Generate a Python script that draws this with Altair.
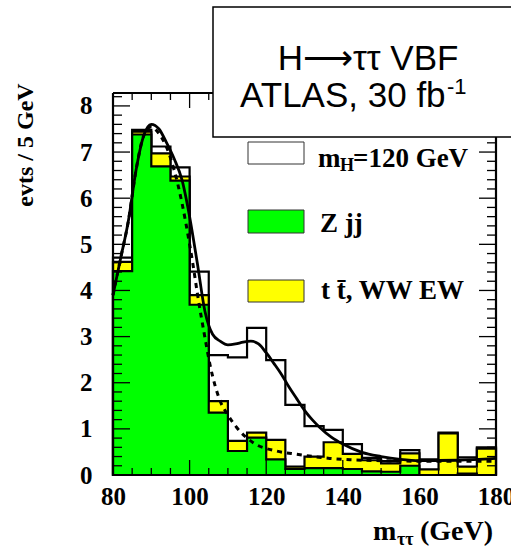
import altair as alt
import pandas as pd

# ---------------- data ----------------
bin_low = [80, 85, 90, 95, 100, 105, 110, 115, 120, 125,
           130, 135, 140, 145, 150, 155, 160, 165, 170, 175]
bin_width = 5
# Z jj background per bin
z_jj = [4.42, 7.38, 6.69, 6.38, 3.69, 1.35, 0.52, 0.81, 0.34, 0.13,
        0.15, 0.15, 0.13, 0.08, 0.07, 0.20, 0.00, 0.00, 0.03, 0.00]
# t tbar, WW EW background per bin
tt_ww = [0.20, 0.06, 0.28, 0.09, 0.21, 0.25, 0.22, 0.11, 0.42, 0.05,
         0.25, 0.56, 0.33, 0.24, 0.18, 0.27, 0.12, 0.90, 0.15, 0.57]
# signal mH = 120 GeV per bin
signal = [0.09, 0.04, 0.15, 0.20, 0.51, 1.00, 1.81, 2.27, 1.73, 1.34,
          0.66, 0.27, 0.21, 0.05, 0.05, 0.07, 0.22, 0.02, 0.20, 0.03]

# fitted curves
fit_x_sb = [80, 82, 84, 86, 88, 90, 92, 94, 96, 98, 100, 102, 104, 106, 108,
            110, 112, 114, 116, 118, 120, 122, 124, 126, 128, 130, 132, 134,
            137, 140, 145, 150, 155, 160, 170, 180]
fit_sb = [3.9, 4.7, 5.5, 6.6, 7.35, 7.6, 7.5, 7.2, 6.85, 6.4, 5.6, 4.6, 3.55,
          3.05, 2.9, 2.82, 2.84, 2.88, 2.9, 2.84, 2.65, 2.42, 2.18, 1.9, 1.65,
          1.4, 1.2, 1.03, 0.82, 0.67, 0.49, 0.4, 0.34, 0.31, 0.32, 0.36]
fit_x_b = [80, 82, 84, 86, 88, 90, 92, 94, 96, 98, 100, 101, 102, 104, 105.3,
           108, 110, 112.3, 116.6, 122.7, 128, 136.6, 142, 150, 160, 170, 180]
fit_b = [3.9, 4.7, 5.5, 6.6, 7.35, 7.55, 7.4, 7.1, 6.6, 5.9, 5.0, 4.5, 3.95,
         2.98, 2.4, 1.6, 1.3, 1.03, 0.70, 0.52, 0.45, 0.36, 0.33, 0.31, 0.30,
         0.30, 0.30]

x_major = [80, 100, 120, 140, 160, 180]
x_minor = [85, 90, 95, 105, 110, 115, 125, 130, 135, 145, 150, 155, 165, 170, 175]
y_major = [0, 1, 2, 3, 4, 5, 6, 7, 8]
y_minor = [round(i * 0.2, 1) for i in range(0, 42) if i % 5 != 0]

X_MIN, X_MAX, Y_MAX = 80, 180, 8.28
W, H = 383, 382
GREEN = "#00ff00"
YELLOW = "#ffff00"
SERIF = "Liberation Serif"
SANS = "Liberation Sans"

# ---------------- build tables ----------------
bkg_top = [a + b for a, b in zip(z_jj, tt_ww)]
tot_top = [a + b for a, b in zip(bkg_top, signal)]
edges = bin_low + [bin_low[-1] + bin_width]

def step_df(vals, name):
    return pd.DataFrame({"x": edges, "y": vals + [vals[-1]], "h": name})

xs = alt.Scale(domain=[X_MIN, X_MAX], nice=False, zero=False)
ys = alt.Scale(domain=[0, Y_MAX], nice=False, zero=True)

X_AXIS = alt.Axis(values=x_major, format="d", ticks=False, tickSize=0, domain=False,
                  grid=False, labelFont=SERIF, labelFontWeight="bold",
                  labelFontSize=25, labelColor="black", labelPadding=9,
                  labelFlush=False, labelOverlap=False, title=None)
Y_AXIS = alt.Axis(values=y_major, format="d", ticks=False, tickSize=0, domain=False,
                  grid=False, labelFont=SERIF, labelFontWeight="bold",
                  labelFontSize=25, labelColor="black", labelPadding=21,
                  labelFlush=False, labelOverlap=False, title=None)

def XE():
    return alt.X("x:Q", scale=xs, axis=X_AXIS, title=None)

def YE():
    return alt.Y("y:Q", scale=ys, axis=Y_AXIS, title=None)

def hist(vals, fill, name):
    return alt.Chart(step_df(vals, name)).mark_area(
        interpolate="step-after", fill=fill, stroke="black", strokeWidth=2.2,
        opacity=1, fillOpacity=1
    ).encode(x=XE(), y=YE())

h_tot = hist(tot_top, "white", "total")
h_bkg = hist(bkg_top, YELLOW, "bkg")
h_z = hist(z_jj, GREEN, "zjj")

line_sb = alt.Chart(pd.DataFrame({"x": fit_x_sb, "y": fit_sb})).mark_line(
    interpolate="monotone", color="black", strokeWidth=2.8
).encode(x=XE(), y=YE())
line_b = alt.Chart(pd.DataFrame({"x": fit_x_b, "y": fit_b})).mark_line(
    interpolate="monotone", color="black", strokeWidth=3, strokeDash=[5, 5]
).encode(x=XE(), y=YE())

# inward ticks
def xticks(vals, length, top):
    y1 = 0 if top else H
    y2 = length if top else H - length
    return alt.Chart(pd.DataFrame({"x": vals})).mark_rule(color="black", strokeWidth=1.3).encode(
        x=XE(), y=alt.value(y1), y2=alt.value(y2))

def yticks(vals, length, right):
    x1 = W if right else 0
    x2 = W - length if right else length
    return alt.Chart(pd.DataFrame({"y": vals})).mark_rule(color="black", strokeWidth=1.3).encode(
        y=YE(), x=alt.value(x1), x2=alt.value(x2))

ticks = [
    xticks(x_major, 15, False), xticks(x_minor, 7, False),
    xticks(x_major, 15, True), xticks(x_minor, 7, True),
    yticks(y_major, 17, False), yticks(y_minor, 9, False),
    yticks(y_major, 17, True), yticks(y_minor, 9, True),
]

one = pd.DataFrame({"a": [0]})
def frame_rule(x1, x2, y1, y2):
    return alt.Chart(one).mark_rule(color="black", strokeWidth=2.2).encode(
        x=alt.value(x1), x2=alt.value(x2), y=alt.value(y1), y2=alt.value(y2))

frame = [frame_rule(0, W, 0, 0), frame_rule(0, W, H, H),
         frame_rule(0, 0, 0, H), frame_rule(W, W, 0, H)]

# legend
def legend_box(y1, y2, fill):
    return alt.Chart(one).mark_rect(fill=fill, stroke="#333333", strokeWidth=1).encode(
        x=alt.value(135), x2=alt.value(191), y=alt.value(y1), y2=alt.value(y2))

def txt(text, x, y, size, font=SERIF, weight="bold", align="left", baseline="alphabetic", angle=0):
    return alt.Chart(one).mark_text(
        text=text, font=font, fontWeight=weight, fontSize=size, align=align,
        baseline=baseline, angle=angle, color="black"
    ).encode(x=alt.value(x), y=alt.value(y))

legend = [
    legend_box(49, 71, "white"), legend_box(117, 140, GREEN), legend_box(187, 209, YELLOW),
    txt("m", 205, 74, 27), txt("H", 227, 78, 18), txt("=120 GeV", 240, 74, 27),
    txt("Z jj", 207, 139, 27),
    txt("t t\u0304, WW EW", 208, 206, 27),
]

# title box
title_box = alt.Chart(one).mark_rect(fill="white", stroke="black", strokeWidth=1.5).encode(
    x=alt.value(100), x2=alt.value(430), y=alt.value(-86), y2=alt.value(44))
title = [
    title_box,
    txt("H\u27f6\u03c4\u03c4 VBF", 255, -23, 35, font=SANS, weight="normal", align="center"),
    txt("ATLAS, 30 fb", 127, 14, 35, font=SANS, weight="normal", align="left"),
    txt("-1", 334, 1, 22, font=SANS, weight="normal", align="left"),
]

# axis titles
axis_titles = [
    txt("evts / 5 GeV", -87, 52, 24, align="center", baseline="middle", angle=270),
    txt("m", 260, 447, 28), txt("\u03c4\u03c4", 284, 452, 18), txt("(GeV)", 307, 447, 28),
]

chart = alt.layer(
    h_tot, h_bkg, h_z, line_sb, line_b, *ticks, *frame, *legend, *title, *axis_titles
).properties(
    width=W, height=H,
    autosize=alt.AutoSizeParams(type="none"),
    padding={"left": 113, "top": 93, "right": 15, "bottom": 73},
).configure_view(stroke=None).configure(background="white")

chart.save("out.html", embed_options={"renderer": "svg", "actions": False})
